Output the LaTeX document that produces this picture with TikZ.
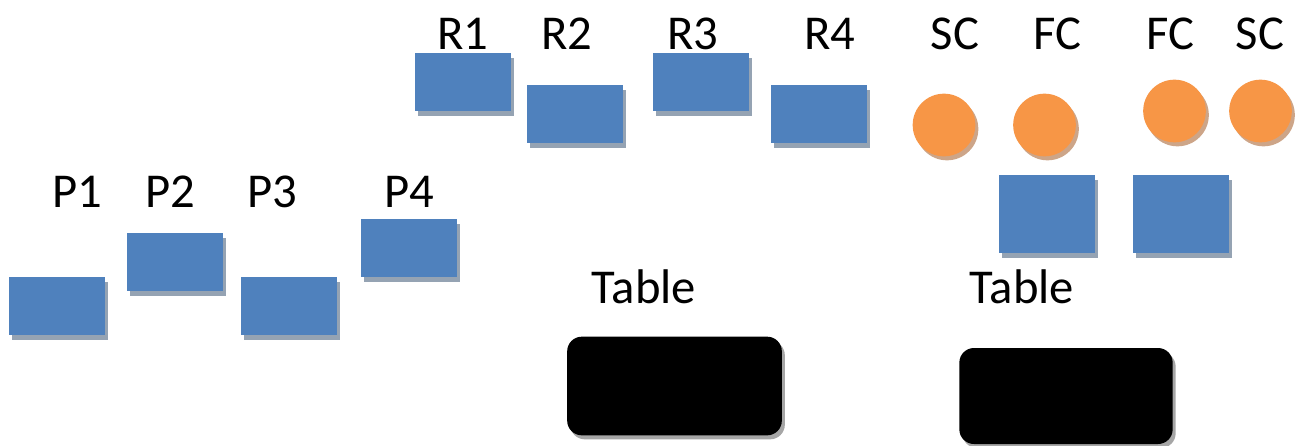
\documentclass[tikz,border=0pt]{standalone}
\usepackage{fontspec}
\setmainfont{Carlito}
\usetikzlibrary{shadows}
\definecolor{boxblue}{HTML}{4F81BD}
\definecolor{boxshadow}{HTML}{95A3B3}
\definecolor{ballorange}{HTML}{F79646}
\definecolor{ballshadow}{HTML}{CDA588}
\definecolor{tableshadow}{HTML}{A6A6A6}
\tikzset{
  blk/.style={rectangle, fill=boxblue, inner sep=0pt, minimum width=72pt, minimum height=43.5pt,
    drop shadow={shadow xshift=2.25pt, shadow yshift=-3.75pt, fill=boxshadow, opacity=1}},
  sqr/.style={blk, minimum height=58.5pt},
  ball/.style={circle, fill=ballorange, inner sep=0pt, minimum size=47pt,
    drop shadow={shadow xshift=2.25pt, shadow yshift=-3pt, fill=ballshadow, opacity=1}},
  tbl/.style={rectangle, rounded corners=11pt, fill=black, inner sep=0pt, minimum width=161pt, minimum height=74pt,
    drop shadow={shadow xshift=2.25pt, shadow yshift=-3pt, fill=tableshadow, opacity=1}},
  lbl/.style={inner sep=0pt, font=\fontsize{36.5}{44}\selectfont}
}
\begin{document}
\begin{tikzpicture}[x=0.75pt, y=-0.75pt]
\useasboundingbox (0,0) rectangle (1296,446);
% robots
\node[blk] (r1) at (463,82) {};
\node[blk] (r2) at (575,114) {};
\node[blk] (r3) at (700.5,82) {};
\node[blk] (r4) at (818.5,114) {};
\node[lbl] (lr1) at (463,34) {R1};
\node[lbl] (lr2) at (567,34) {R2};
\node[lbl] (lr3) at (693,34) {R3};
\node[lbl] (lr4) at (830,34) {R4};
% balls
\node[ball] (sc1) at (944,125) {};
\node[ball] (fc1) at (1044.5,125) {};
\node[ball] (fc2) at (1174.5,111) {};
\node[ball] (sc2) at (1260.5,111) {};
\node[lbl] (lsc1) at (955,34) {SC};
\node[lbl] (lfc1) at (1057,34) {FC};
\node[lbl] (lfc2) at (1170,34) {FC};
\node[lbl] (lsc2) at (1260,34) {SC};
% squares
\node[sqr] (q1) at (1047,214) {};
\node[sqr] (q2) at (1181,214) {};
% P boxes
\node[blk] (p1) at (57,306) {};
\node[blk] (p2) at (175,262) {};
\node[blk] (p3) at (289,306) {};
\node[blk] (p4) at (409,248) {};
\node[lbl] (lp1) at (77,192) {P1};
\node[lbl] (lp2) at (170,192) {P2};
\node[lbl] (lp3) at (272,192) {P3};
\node[lbl] (lp4) at (409,192) {P4};
% tables
\node[tbl] (t1) at (674.5,386) {};
\node[tbl, minimum width=160pt, minimum height=72pt] (t2) at (1066,396) {};
\node[lbl] (lt1) at (644,287) {Table};
\node[lbl] (lt2) at (1022,287) {Table};
\end{tikzpicture}
\end{document}
